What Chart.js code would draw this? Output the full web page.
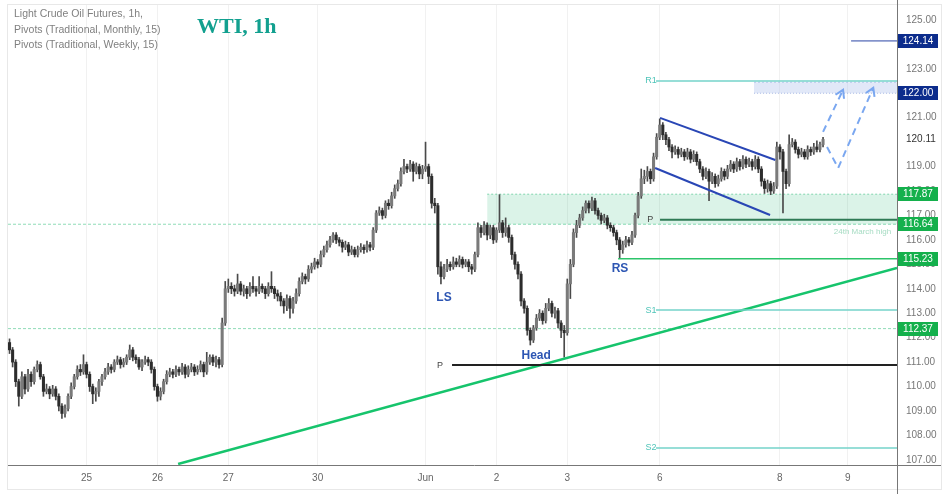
<!DOCTYPE html>
<html>
<head>
<meta charset="utf-8">
<script src="https://cdn.jsdelivr.net/npm/chart.js@4.4.1/dist/chart.umd.min.js"></script>
<style>
  html, body { margin: 0; padding: 0; background: #fff; }
  #wrap { position: relative; width: 950px; height: 494px; }
</style>
</head>
<body>
<div id="wrap"><canvas id="chart" width="950" height="494"></canvas></div>
<script>
// --- x axis: one slot per hourly candle, day labels at session starts
const dayTicks = [25, 48, 71, 100, 135, 158, 181, 211, 250, 272];
const dayLabels = ['25', '26', '27', '30', 'Jun', '2', '3', '6', '8', '9'];
const priceTicks = [107, 108, 109, 110, 111, 112, 113, 114, 115, 116, 117, 118, 119, 121, 122, 123, 124, 125];

// --- hourly OHLC
const opens = [
  111.8,111.5,111.0,110.2,109.6,110.4,109.9,110.5,110.2,110.7,
  110.9,110.4,109.8,109.9,109.7,109.9,109.6,109.2,108.9,109.1,
  109.6,110.0,110.4,110.7,110.6,110.9,110.5,110.0,109.7,109.8,
  110.2,110.4,110.6,110.8,110.7,111.0,111.1,110.9,111.0,111.2,
  111.5,111.2,111.1,110.8,111.0,111.1,111.0,110.7,110.0,109.6,
  109.8,110.2,110.5,110.6,110.5,110.7,110.6,110.8,110.5,110.7,
  110.8,110.6,110.7,110.9,110.6,111.0,111.2,111.0,111.1,110.9,
  112.6,114.0,114.1,114.0,113.9,114.2,113.9,114.0,113.8,114.1,
  114.0,113.9,114.1,114.0,113.8,114.1,114.0,113.8,113.7,113.5,
  113.3,113.6,113.2,113.5,113.8,114.3,114.5,114.4,114.8,114.9,
  115.1,115.0,115.4,115.6,115.8,116.0,116.2,116.0,115.9,115.7,
  115.8,115.5,115.6,115.4,115.6,115.7,115.6,115.8,115.7,116.4,
  117.1,117.2,117.0,117.5,117.4,117.8,118.1,118.3,118.8,119.0,
  118.9,119.1,118.8,119.0,118.7,118.9,119.0,118.6,117.5,117.4,
  114.9,114.5,114.8,115.0,114.9,115.1,115.0,115.2,115.0,115.1,
  114.9,114.8,115.4,116.5,116.3,116.6,116.2,116.5,116.0,116.4,
  116.7,116.3,116.5,116.1,115.4,115.0,114.6,113.5,113.2,112.3,
  111.9,112.4,112.8,113.0,112.7,113.2,113.4,113.0,113.1,112.6,
  112.3,112.2,114.2,115.0,116.3,116.6,116.9,117.2,117.5,117.3,
  117.6,117.2,117.0,116.8,116.9,116.6,116.5,116.3,116.0,115.6,
  115.8,116.0,115.9,116.2,117.0,117.8,118.5,118.6,118.8,118.5,
  119.4,120.2,120.7,120.3,120.1,119.8,119.6,119.7,119.5,119.6,
  119.4,119.6,119.3,119.5,119.2,118.9,118.6,118.8,118.4,118.6,
  118.3,118.5,118.8,118.6,118.9,119.1,118.9,119.2,119.0,119.3,
  119.1,119.2,119.0,119.3,118.9,118.4,118.1,118.3,118.0,118.2,
  119.8,119.6,118.8,118.3,119.9,120.0,119.7,119.5,119.6,119.4,
  119.7,119.6,119.8,119.7,119.9
];
const highs = [
  111.95,111.6,111.1,110.3,110.6,110.5,110.7,110.6,110.8,111.05,
  111.0,110.5,110.1,110.0,110.05,110.0,109.7,109.3,109.25,109.7,
  110.15,110.5,110.85,110.9,111.3,111.0,110.6,110.1,109.95,110.3,
  110.5,110.75,110.95,110.9,111.1,111.25,111.2,111.15,111.3,111.7,
  111.6,111.3,111.2,111.1,111.25,111.2,111.1,110.8,110.1,109.95,
  110.3,110.65,110.75,110.7,110.85,110.8,110.95,110.9,110.85,110.95,
  110.9,110.85,111.05,111.0,111.4,111.3,111.3,111.25,111.2,112.8,
  114.3,114.4,114.25,114.15,114.6,114.3,114.15,114.1,114.25,114.5,
  114.1,114.5,114.2,114.1,114.25,114.7,114.1,113.95,113.85,113.6,
  113.75,113.7,113.65,114.0,114.45,114.65,114.6,114.95,115.05,115.25,
  115.2,115.55,115.75,115.95,116.15,116.3,116.3,116.1,116.0,115.95,
  115.9,115.75,115.7,115.75,115.85,115.8,115.95,115.9,116.5,117.2,
  117.35,117.3,117.6,117.65,117.95,118.25,118.45,118.95,119.3,119.1,
  119.25,119.2,119.15,119.1,119.05,120.0,119.1,118.7,117.7,117.5,
  115.1,115.0,115.2,115.1,115.3,115.25,115.35,115.3,115.2,115.2,
  115.0,115.5,116.7,116.6,116.75,116.7,116.6,116.6,116.5,117.85,
  116.8,116.9,116.6,116.2,115.5,115.1,114.7,113.6,113.3,112.4,
  112.5,112.95,113.15,113.1,113.4,113.6,113.5,113.25,113.2,112.7,
  112.5,114.4,115.2,116.45,116.8,117.05,117.35,117.6,117.6,117.75,
  117.7,117.3,117.1,117.05,117.0,116.7,116.6,116.4,116.1,115.95,
  116.15,116.1,116.35,117.1,117.95,118.9,118.85,119.0,118.9,119.55,
  120.35,120.95,120.8,120.4,120.2,119.9,119.85,119.8,119.75,119.7,
  119.75,119.7,119.65,119.6,119.3,119.0,118.95,118.9,118.75,118.7,
  118.65,118.95,118.9,119.05,119.25,119.2,119.35,119.3,119.45,119.4,
  119.35,119.3,119.45,119.4,119.0,118.5,118.45,118.4,118.35,120.0,
  119.9,119.7,118.9,120.3,120.15,120.1,119.8,119.75,119.7,119.85,
  119.8,119.95,120.05,120.0,120.2
];
const lows = [
  111.35,110.8,110.0,109.2,109.5,109.7,109.8,110.0,110.1,110.6,
  110.3,109.6,109.7,109.5,109.6,109.45,109.0,108.7,108.75,109.0,
  109.5,109.9,110.3,110.45,110.5,110.35,109.8,109.3,109.4,109.6,
  110.05,110.3,110.5,110.55,110.6,110.9,110.75,110.8,110.9,111.1,
  111.05,110.95,110.7,110.65,110.9,110.85,110.55,109.85,109.4,109.45,
  109.7,110.1,110.4,110.35,110.4,110.45,110.5,110.35,110.4,110.6,
  110.45,110.5,110.6,110.4,110.5,110.9,110.85,110.8,110.75,110.8,
  112.5,113.85,113.8,113.7,113.8,113.75,113.7,113.6,113.7,113.85,
  113.7,113.8,113.85,113.6,113.7,113.85,113.6,113.5,113.3,113.0,
  113.1,112.8,113.0,113.4,113.7,114.2,114.2,114.3,114.65,114.8,
  114.85,114.9,115.3,115.5,115.7,115.9,115.85,115.75,115.5,115.6,
  115.35,115.4,115.3,115.3,115.5,115.45,115.5,115.55,115.6,116.3,
  117.0,116.85,116.9,117.25,117.3,117.7,118.0,118.2,118.7,118.75,
  118.8,118.4,118.7,118.5,118.5,118.8,118.3,117.3,117.1,114.6,
  114.2,114.4,114.7,114.75,114.8,114.9,114.9,114.85,114.9,114.7,
  114.6,114.7,115.3,116.1,116.2,116.0,116.05,115.85,115.9,116.3,
  116.1,116.15,115.9,115.2,114.8,114.4,113.3,113.0,112.1,111.7,
  111.8,112.3,112.7,112.55,112.6,113.1,112.85,112.8,112.4,112.0,
  111.2,112.1,113.6,114.9,116.1,116.5,116.8,117.1,117.1,117.2,
  117.05,116.85,116.65,116.7,116.45,116.35,116.15,115.8,115.25,115.45,
  115.7,115.75,115.8,116.1,116.9,117.7,118.3,118.4,118.3,118.4,
  119.3,120.1,120.1,119.9,119.65,119.35,119.5,119.35,119.4,119.25,
  119.3,119.15,119.2,119.05,118.75,118.45,118.5,117.6,118.3,118.15,
  118.2,118.4,118.45,118.5,118.8,118.75,118.8,118.85,118.9,118.95,
  119.0,118.85,118.9,118.75,118.2,117.9,117.95,117.85,117.9,118.1,
  119.3,117.1,118.1,118.2,119.8,119.55,119.35,119.4,119.3,119.3,
  119.45,119.5,119.6,119.6,119.8
];
const closes = [
  111.5,111.0,110.2,109.6,110.4,109.9,110.5,110.2,110.7,110.9,
  110.4,109.8,109.9,109.7,109.9,109.6,109.2,108.9,109.1,109.6,
  110.0,110.4,110.7,110.6,110.9,110.5,110.0,109.7,109.8,110.2,
  110.4,110.6,110.8,110.7,111.0,111.1,110.9,111.0,111.2,111.5,
  111.2,111.1,110.8,111.0,111.1,111.0,110.7,110.0,109.6,109.8,
  110.2,110.5,110.6,110.5,110.7,110.6,110.8,110.5,110.7,110.8,
  110.6,110.7,110.9,110.6,111.0,111.2,111.0,111.1,110.9,112.6,
  114.0,114.1,114.0,113.9,114.2,113.9,114.0,113.8,114.1,114.0,
  113.9,114.1,114.0,113.8,114.1,114.0,113.8,113.7,113.5,113.3,
  113.6,113.2,113.5,113.8,114.3,114.5,114.4,114.8,114.9,115.1,
  115.0,115.4,115.6,115.8,116.0,116.2,116.0,115.9,115.7,115.8,
  115.5,115.6,115.4,115.6,115.7,115.6,115.8,115.7,116.4,117.1,
  117.2,117.0,117.5,117.4,117.8,118.1,118.3,118.8,119.0,118.9,
  119.1,118.8,119.0,118.7,118.9,119.0,118.6,117.5,117.4,114.9,
  114.5,114.8,115.0,114.9,115.1,115.0,115.2,115.0,115.1,114.9,
  114.8,115.4,116.5,116.3,116.6,116.2,116.5,116.0,116.4,116.7,
  116.3,116.5,116.1,115.4,115.0,114.6,113.5,113.2,112.3,111.9,
  112.4,112.8,113.0,112.7,113.2,113.4,113.0,113.1,112.6,112.3,
  112.2,114.2,115.0,116.3,116.6,116.9,117.2,117.5,117.3,117.6,
  117.2,117.0,116.8,116.9,116.6,116.5,116.3,116.0,115.6,115.8,
  116.0,115.9,116.2,117.0,117.8,118.5,118.6,118.8,118.5,119.4,
  120.2,120.7,120.3,120.1,119.8,119.6,119.7,119.5,119.6,119.4,
  119.6,119.3,119.5,119.2,118.9,118.6,118.8,118.4,118.6,118.3,
  118.5,118.8,118.6,118.9,119.1,118.9,119.2,119.0,119.3,119.1,
  119.2,119.0,119.3,118.9,118.4,118.1,118.3,118.0,118.2,119.8,
  119.6,118.8,118.3,119.9,120.0,119.7,119.5,119.6,119.4,119.7,
  119.6,119.8,119.7,119.9,120.11
];
const lastPrice = 120.11;

// --- pivots and marked levels
const monthlyR1 = 122.5, monthlyS1 = 113.13, monthlyS2 = 107.49, monthlyPivot = 110.88;
const weeklyPivot = 116.82;
const navyLevels = [124.14, 122.00];
const greenLevels = [117.87, 116.64, 115.23, 112.37];

// --- drawn studies, in (candle index, price)
const trendLine = [[54.7, 106.83], [288, 114.85]];
const channelUpper = [[211.1, 120.99], [248.5, 119.27]];
const channelLower = [[209.5, 118.94], [246.8, 117.02]];
const pathUp = [[264, 120.42], [270.5, 122.14]];
const pathDip = [[265.3, 119.8], [268.9, 118.94], [280.3, 122.22]];
const patternNotes = [['LS', 141, 113.62], ['Head', 170.9, 111.25], ['RS', 198.1, 114.81]];

const X_MIN = -0.5, X_MAX = 288;

function seg(points, color, width, dash, order) {
  return {
    type: 'line',
    data: points.map(p => ({ x: p[0], y: p[1] })),
    borderColor: color,
    borderWidth: width,
    borderDash: dash || [],
    pointRadius: 0,
    fill: false,
    tension: 0,
    order: order == null ? 1 : order
  };
}
function hline(y, x0, color, width, dash, order) {
  return seg([[x0, y], [X_MAX, y]], color, width, dash, order);
}

const upColor = '#7a7a7a', downColor = '#2c2c2c';

const datasets = [
  // zones
  Object.assign(hline(117.87, 155, 'rgba(60,190,130,0.6)', 1, [2, 2], 20),
    { fill: { value: 116.64 }, backgroundColor: 'rgba(40,185,120,0.17)' }),
  Object.assign(hline(122.45, 241.6, 'rgba(150,170,225,0.6)', 1, [2, 2], 20),
    { fill: { value: 122.0 }, backgroundColor: 'rgba(170,190,235,0.35)' }),
  hline(122.0, 241.6, 'rgba(140,160,220,0.7)', 1, [1, 2], 20),
  hline(116.64, X_MIN, '#8fdcb8', 1, [3, 2], 20),
  hline(112.37, X_MIN, '#8fdcb8', 1, [3, 2], 20),
  // candles
  {
    type: 'bar',
    data: highs.map((h, i) => ({ x: i, y: [lows[i], h] })),
    backgroundColor: '#4a4a4a',
    barThickness: 1,
    grouped: false,
    order: 6
  },
  {
    type: 'bar',
    data: opens.map((o, i) => ({ x: i, y: [o, closes[i]] })),
    backgroundColor: ctx => closes[ctx.dataIndex] >= opens[ctx.dataIndex] ? upColor : downColor,
    barThickness: 2.4,
    minBarLength: 1,
    grouped: false,
    order: 5
  },
  // pivots
  hline(monthlyR1, 209.8, '#74d3ca', 1.5),
  hline(monthlyS1, 209.8, '#74d3ca', 1.5),
  hline(monthlyS2, 209.8, '#74d3ca', 1.5),
  hline(monthlyPivot, 143.6, '#222', 2),
  hline(weeklyPivot, 211.1, '#2f7a55', 2),
  hline(115.23, 197.5, '#2cc46a', 1.5),
  hline(124.14, 273.1, '#2a45a5', 1),
  // studies
  seg(trendLine, '#16c46c', 2.5),
  seg(channelUpper, '#2946b5', 2),
  seg(channelLower, '#2946b5', 2),
  seg(pathUp, '#7aa7f0', 2, [7, 5]),
  seg(pathDip, '#7aa7f0', 2, [7, 5])
];

const overlay = {
  id: 'overlay',
  afterDatasetsDraw(chart) {
    const { ctx, scales: { x, y } } = chart;
    const px = v => x.getPixelForValue(v), py = v => y.getPixelForValue(v);
    ctx.save();

    // arrow heads at the end of the projected paths
    [pathUp, pathDip].forEach(path => {
      const a = path[path.length - 2], b = path[path.length - 1];
      const x1 = px(a[0]), y1 = py(a[1]), x2 = px(b[0]), y2 = py(b[1]);
      const ang = Math.atan2(y2 - y1, x2 - x1);
      ctx.strokeStyle = '#7aa7f0';
      ctx.lineWidth = 2;
      ctx.setLineDash([]);
      ctx.beginPath();
      ctx.moveTo(x2 - 9 * Math.cos(ang - 0.55), y2 - 9 * Math.sin(ang - 0.55));
      ctx.lineTo(x2, y2);
      ctx.lineTo(x2 - 9 * Math.cos(ang + 0.55), y2 - 9 * Math.sin(ang + 0.55));
      ctx.stroke();
    });

    // pattern labels
    ctx.font = 'bold 12px "Liberation Sans", Arial, sans-serif';
    ctx.fillStyle = '#2d56b3';
    ctx.textAlign = 'center';
    ctx.textBaseline = 'middle';
    patternNotes.forEach(n => ctx.fillText(n[0], px(n[1]), py(n[2])));

    // pivot labels
    ctx.font = '9px "Liberation Sans", Arial, sans-serif';
    ctx.fillStyle = '#4fc4b8';
    ctx.fillText('R1', px(208.2), py(monthlyR1));
    ctx.fillText('S1', px(208.2), py(monthlyS1));
    ctx.fillText('S2', px(208.2), py(monthlyS2));
    ctx.fillStyle = '#444';
    ctx.fillText('P', px(207.9), py(weeklyPivot));
    ctx.fillText('P', px(139.7), py(monthlyPivot));

    ctx.font = '8px "Liberation Sans", Arial, sans-serif';
    ctx.fillStyle = '#a6dcc3';
    ctx.textAlign = 'right';
    ctx.fillText('24th March high', px(286.1), py(116.33));

    // header texts
    ctx.textAlign = 'left';
    ctx.textBaseline = 'alphabetic';
    ctx.font = '10.5px "Liberation Sans", Arial, sans-serif';
    ctx.fillStyle = '#808080';
    ctx.fillText('Light Crude Oil Futures, 1h,', 14, 17);
    ctx.fillText('Pivots (Traditional, Monthly, 15)', 14, 33);
    ctx.fillText('Pivots (Traditional, Weekly, 15)', 14, 48);
    ctx.font = 'bold 22px "Liberation Serif", "Times New Roman", serif';
    ctx.fillStyle = '#12a08f';
    ctx.fillText('WTI, 1h', 197, 33);
    ctx.restore();
  },
  afterDraw(chart) {
    const { ctx, chartArea: a, scales: { y } } = chart;
    ctx.save();
    // frame and axis lines
    ctx.strokeStyle = '#e8e8e8';
    ctx.lineWidth = 1;
    ctx.strokeRect(7.5, 4.5, 934, 485);
    ctx.strokeStyle = '#777';
    ctx.beginPath();
    ctx.moveTo(a.left, a.bottom + 0.5);
    ctx.lineTo(941, a.bottom + 0.5);
    ctx.moveTo(a.right + 0.5, 0);
    ctx.lineTo(a.right + 0.5, 494);
    ctx.stroke();

    // price tags
    ctx.font = '10px "Liberation Sans", Arial, sans-serif';
    ctx.textAlign = 'center';
    ctx.textBaseline = 'middle';
    const tag = (v, color) => {
      const yy = Math.round(y.getPixelForValue(v));
      ctx.fillStyle = color;
      ctx.fillRect(a.right + 1, yy - 7, 40, 14);
      ctx.fillStyle = '#fff';
      ctx.fillText(v.toFixed(2), a.right + 21, yy + 0.5);
    };
    navyLevels.forEach(v => tag(v, '#0c2c8c'));
    greenLevels.forEach(v => tag(v, '#14b04c'));

    ctx.textAlign = 'left';
    ctx.fillStyle = '#333';
    ctx.fillText(lastPrice.toFixed(2), a.right + 9, y.getPixelForValue(lastPrice));
    ctx.restore();
  }
};

new Chart(document.getElementById('chart'), {
  type: 'bar',
  data: { datasets },
  options: {
    responsive: false,
    animation: false,
    devicePixelRatio: 1,
    layout: { padding: { left: 8, top: 5, right: 0, bottom: 0 } },
    plugins: { legend: { display: false }, tooltip: { enabled: false } },
    scales: {
      x: {
        type: 'linear',
        min: X_MIN,
        max: X_MAX,
        offset: false,
        grid: { color: '#f1f1f1', drawTicks: false, offset: false },
        border: { display: false },
        afterBuildTicks: s => { s.ticks = dayTicks.map(v => ({ value: v })); },
        afterFit: s => { s.height = 29; s.paddingLeft = 0; s.paddingRight = 0; },
        ticks: {
          autoSkip: false,
          maxRotation: 0,
          padding: 7,
          color: '#666',
          font: { size: 10, family: '"Liberation Sans Narrow", "Liberation Sans", Arial' },
          callback: v => dayLabels[dayTicks.indexOf(v)]
        }
      },
      y: {
        position: 'right',
        min: 106.79,
        max: 125.61,
        grid: { display: false, drawTicks: false },
        border: { display: false },
        afterBuildTicks: s => { s.ticks = priceTicks.map(v => ({ value: v })); },
        afterFit: s => { s.width = 53; s.paddingTop = 0; s.paddingBottom = 0; },
        ticks: {
          padding: 9,
          color: '#777',
          font: { size: 10, family: '"Liberation Sans", Arial' },
          callback: v => v.toFixed(2)
        }
      }
    }
  },
  plugins: [overlay]
});
</script>
</body>
</html>
